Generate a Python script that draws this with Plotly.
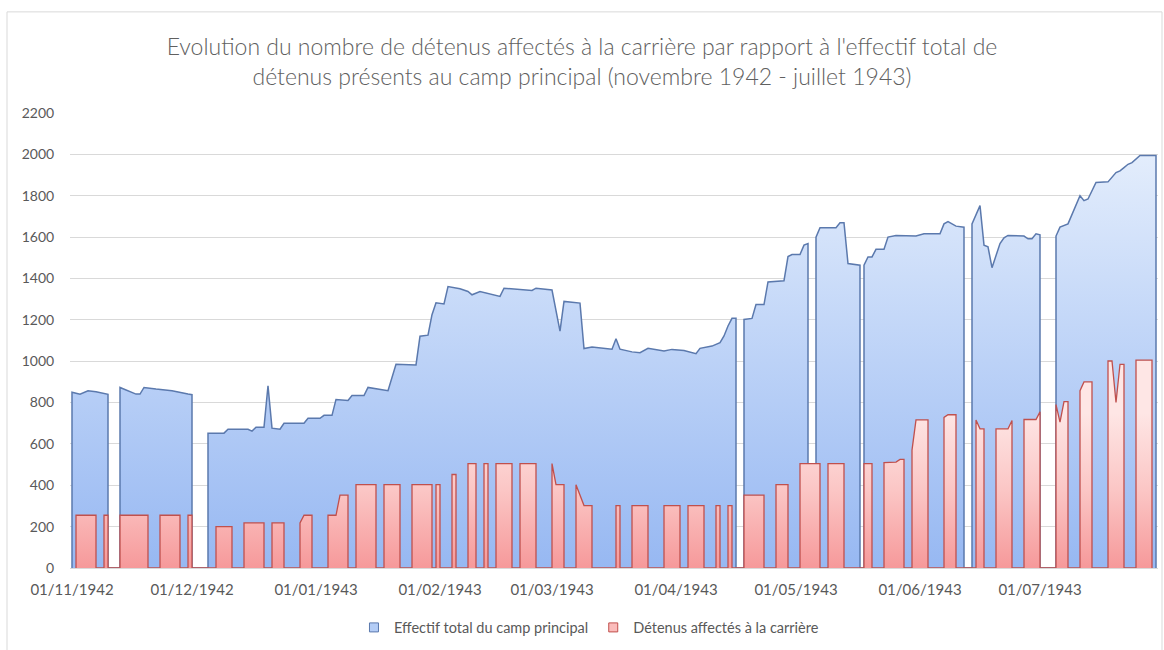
import plotly.graph_objects as go

# ---- Effectif total du camp principal (None = pas de donnée / interruption) ----
blue_dates = [
    "1942-11-01", "1942-11-03", "1942-11-05", "1942-11-07", "1942-11-09", "1942-11-10", None,
    "1942-11-13", "1942-11-15", "1942-11-17", "1942-11-18", "1942-11-19", "1942-11-22",
    "1942-11-26", "1942-11-30", "1942-12-01", None,
    "1942-12-05", "1942-12-09", "1942-12-10", "1942-12-15", "1942-12-16", "1942-12-17",
    "1942-12-19", "1942-12-20", "1942-12-21", "1942-12-23", "1942-12-24", "1942-12-29",
    "1942-12-30", "1943-01-02", "1943-01-03", "1943-01-05", "1943-01-06", "1943-01-09",
    "1943-01-10", "1943-01-13", "1943-01-14", "1943-01-19", "1943-01-21", "1943-01-26",
    "1943-01-27", "1943-01-29", "1943-01-30", "1943-01-31", "1943-02-02", "1943-02-03",
    "1943-02-06", "1943-02-08", "1943-02-09", "1943-02-11", "1943-02-16", "1943-02-17",
    "1943-02-24", "1943-02-25", "1943-03-01", "1943-03-03", "1943-03-04", "1943-03-08",
    "1943-03-09", "1943-03-11", "1943-03-16", "1943-03-17", "1943-03-18", "1943-03-21",
    "1943-03-23", "1943-03-25", "1943-03-29", "1943-03-31", "1943-04-03", "1943-04-06",
    "1943-04-07", "1943-04-09", "1943-04-10", "1943-04-12", "1943-04-13", "1943-04-14",
    "1943-04-15", "1943-04-16", None,
    "1943-04-18", "1943-04-20", "1943-04-21", "1943-04-23", "1943-04-24", "1943-04-28",
    "1943-04-29", "1943-04-30", "1943-05-02", "1943-05-03", "1943-05-04", None,
    "1943-05-06", "1943-05-07", "1943-05-11", "1943-05-12", "1943-05-13", "1943-05-14",
    "1943-05-17", None,
    "1943-05-18", "1943-05-19", "1943-05-20", "1943-05-21", "1943-05-23", "1943-05-24",
    "1943-05-26", "1943-05-31", "1943-06-02", "1943-06-06", "1943-06-07", "1943-06-08",
    "1943-06-10", "1943-06-12", None,
    "1943-06-14", "1943-06-16", "1943-06-17", "1943-06-18", "1943-06-19", "1943-06-21",
    "1943-06-22", "1943-06-23", "1943-06-27", "1943-06-28", "1943-06-29", "1943-06-30",
    "1943-07-01", None,
    "1943-07-05", "1943-07-06", "1943-07-08", "1943-07-09", "1943-07-11", "1943-07-12",
    "1943-07-13", "1943-07-15", "1943-07-18", "1943-07-20", "1943-07-21", "1943-07-22",
    "1943-07-23", "1943-07-24", "1943-07-26", "1943-07-30",
]
blue_values = [
    850, 840, 857, 852, 845, 840, None,
    873, 857, 841, 841, 873, 865, 857, 841, 838, None,
    652, 652, 671, 671, 662, 681, 681, 881, 676, 671, 700, 700,
    724, 724, 738, 738, 815, 810, 834, 834, 873, 857, 985, 982,
    1121, 1126, 1225, 1282, 1277, 1361, 1350, 1337, 1321, 1337, 1313, 1353,
    1342, 1353, 1344, 1145, 1289, 1281, 1061, 1068, 1058, 1108, 1058, 1045,
    1041, 1062, 1049, 1057, 1052, 1036, 1062, 1068, 1073, 1090, 1122, 1170,
    1207, 1207, None,
    1202, 1207, 1274, 1274, 1383, 1389, 1506, 1516, 1516, 1561, 1569, None,
    1600, 1645, 1645, 1669, 1669, 1472, 1464, None,
    1464, 1504, 1504, 1541, 1541, 1600, 1608, 1605, 1616, 1616, 1664, 1675,
    1653, 1648, None,
    1664, 1752, 1561, 1553, 1452, 1569, 1596, 1608, 1605, 1592, 1592, 1616,
    1611, None,
    1605, 1648, 1664, 1712, 1800, 1776, 1784, 1864, 1867, 1912, 1920, 1936,
    1952, 1960, 1995, 1995,
]

# ---- Détenus affectés à la carrière (None = pas de travail à la carrière) ----
red_dates = [
    "1942-11-02", "1942-11-07", None, "1942-11-09", "1942-11-10", None,
    "1942-11-13", "1942-11-20", None, "1942-11-23", "1942-11-28", None,
    "1942-11-30", "1942-12-01", None, "1942-12-07", "1942-12-11", None,
    "1942-12-14", "1942-12-19", None, "1942-12-21", "1942-12-24", None,
    "1942-12-28", "1942-12-29", "1942-12-31", None,
    "1943-01-04", "1943-01-06", "1943-01-07", "1943-01-09", None,
    "1943-01-11", "1943-01-16", None, "1943-01-18", "1943-01-22", None,
    "1943-01-25", "1943-01-30", None, "1943-01-31", "1943-02-01", None,
    "1943-02-04", "1943-02-05", None, "1943-02-08", "1943-02-10", None,
    "1943-02-12", "1943-02-13", None, "1943-02-15", "1943-02-19", None,
    "1943-02-21", "1943-02-25", None,
    "1943-03-01", "1943-03-02", "1943-03-04", None,
    "1943-03-07", "1943-03-09", "1943-03-11", None,
    "1943-03-17", "1943-03-18", None, "1943-03-21", "1943-03-25", None,
    "1943-03-29", "1943-04-02", None, "1943-04-04", "1943-04-08", None,
    "1943-04-11", "1943-04-12", None, "1943-04-14", "1943-04-15", None,
    "1943-04-18", "1943-04-23", None, "1943-04-26", "1943-04-29", None,
    "1943-05-02", "1943-05-07", None, "1943-05-09", "1943-05-13", None,
    "1943-05-18", "1943-05-20", None,
    "1943-05-23", "1943-05-26", "1943-05-27", "1943-05-28", None,
    "1943-05-30", "1943-05-31", "1943-06-03", None,
    "1943-06-07", "1943-06-08", "1943-06-10", None,
    "1943-06-15", "1943-06-16", "1943-06-17", None,
    "1943-06-20", "1943-06-23", "1943-06-24", None,
    "1943-06-27", "1943-06-30", "1943-07-01", None,
    "1943-07-05", "1943-07-06", "1943-07-07", "1943-07-08", None,
    "1943-07-11", "1943-07-12", "1943-07-14", None,
    "1943-07-18", "1943-07-19", "1943-07-20", "1943-07-21", "1943-07-22", None,
    "1943-07-25", "1943-07-29",
]
red_values = [
    255, 255, None, 255, 255, None,
    255, 255, None, 255, 255, None,
    255, 255, None, 200, 200, None,
    218, 218, None, 218, 218, None,
    218, 255, 255, None,
    255, 255, 352, 352, None,
    403, 403, None, 403, 403, None,
    403, 403, None, 403, 403, None,
    452, 452, None, 505, 505, None,
    505, 505, None, 505, 505, None,
    505, 505, None,
    505, 403, 403, None,
    403, 302, 302, None,
    302, 302, None, 302, 302, None,
    302, 302, None, 302, 302, None,
    302, 302, None, 302, 302, None,
    352, 352, None, 403, 403, None,
    505, 505, None, 505, 505, None,
    505, 505, None,
    510, 512, 525, 525, None,
    570, 716, 716, None,
    728, 741, 741, None,
    716, 673, 673, None,
    673, 673, 713, None,
    718, 718, 755, None,
    790, 705, 804, 804, None,
    857, 900, 900, None,
    1001, 1001, 801, 985, 985, None,
    1005, 1005,
]

tick_dates = ["1942-11-01", "1942-12-01", "1943-01-01", "1943-02-01", "1943-03-01",
              "1943-04-01", "1943-05-01", "1943-06-01", "1943-07-01"]
tick_labels = ["01/11/1942", "01/12/1942", "01/01/1943", "01/02/1943", "01/03/1943",
               "01/04/1943", "01/05/1943", "01/06/1943", "01/07/1943"]
y_ticks = list(range(0, 2201, 200))

series_names = ["Effectif total du camp principal", "Détenus affectés à la carrière"]
title_text = ("Evolution du nombre de détenus affectés à la carrière par rapport à l'effectif total de"
              "<br>détenus présents au camp principal (novembre 1942 - juillet 1943)")


def close_blocks(dates, values):
    """Each run of values is closed down to the baseline at both of its ends."""
    xs, ys, block = [], [], []
    for d, v in list(zip(dates, values)) + [(None, None)]:
        if v is None:
            if block:
                xs += [block[0][0]] + [b[0] for b in block] + [block[-1][0]]
                ys += [0] + [b[1] for b in block] + [0]
            block = []
        else:
            block.append((d, v))
    return xs, ys


bx, by = close_blocks(blue_dates, blue_values)
rx, ry = close_blocks(red_dates, red_values)

GREY = "#595959"
FONT = "Lato"
BLUE_LINE, RED_LINE = "#5b79ad", "#c0504d"

fig = go.Figure()
fig.add_trace(go.Scatter(
    x=bx, y=by, mode="lines", name=series_names[0], showlegend=False,
    line=dict(color=BLUE_LINE, width=1.5),
    fill="tozeroy",
    fillgradient=dict(type="vertical", start=0, stop=2000,
                      colorscale=[[0, "#97b8f2"], [0.5, "#bcd2f7"], [1, "#e3edfc"]]),
))
fig.add_trace(go.Scatter(
    x=rx, y=ry, mode="lines", name=series_names[1], showlegend=False,
    line=dict(color=RED_LINE, width=1.3),
    fill="tozeroy",
    fillgradient=dict(type="vertical", start=0, stop=750,
                      colorscale=[[0, "#f6999a"], [0.5, "#fbc6c5"], [1, "#fee6e5"]]),
))
# legend entries (square keys, as in the original)
fig.add_trace(go.Scatter(x=[None], y=[None], mode="markers", name=series_names[0],
                         marker=dict(symbol="square", size=9, color="#b4cdf6",
                                     line=dict(color=BLUE_LINE, width=1))))
fig.add_trace(go.Scatter(x=[None], y=[None], mode="markers", name=series_names[1],
                         marker=dict(symbol="square", size=9, color="#fbbcbb",
                                     line=dict(color=RED_LINE, width=1))))

fig.update_layout(
    width=1164, height=650,
    margin=dict(l=70, r=6, t=113, b=78),
    paper_bgcolor="white", plot_bgcolor="white",
    font=dict(family=FONT, color=GREY, size=14),
    title=dict(text=title_text, x=0.5, xanchor="center", y=1 - 55 / 650, yanchor="middle",
               font=dict(family=FONT, size=23, color="#606060", weight=300)),
    showlegend=True,
    legend=dict(orientation="h", x=0.477, xanchor="center", y=1 - (632 - 113) / 459,
                yanchor="middle", font=dict(family=FONT, size=14.5, color=GREY),
                itemwidth=30, traceorder="normal", tracegroupgap=0),
    xaxis=dict(
        type="date", range=["1942-10-31 12:00", "1943-07-30 12:00"],
        tickmode="array", tickvals=tick_dates, ticktext=tick_labels,
        showgrid=False, showline=True, linecolor="#d9d9d9", linewidth=1,
        ticks="outside", ticklen=8, tickcolor="rgba(0,0,0,0)",
        tickfont=dict(family=FONT, size=15, color=GREY), zeroline=False,
    ),
    yaxis=dict(
        range=[0, 2200], tickmode="array", tickvals=y_ticks,
        showgrid=True, gridcolor="#d9d9d9", gridwidth=1, zeroline=False,
        ticks="outside", ticklen=12, tickcolor="rgba(0,0,0,0)",
        tickfont=dict(family=FONT, size=14, color=GREY),
    ),
    shapes=[dict(type="rect", xref="paper", yref="paper",
                 x0=(7 - 70) / 1088, x1=(1162 - 70) / 1088,
                 y0=1 - (660 - 113) / 459, y1=1 - (11 - 113) / 459,
                 line=dict(color="#d9d9d9", width=1), fillcolor="rgba(0,0,0,0)",
                 layer="below")],
)

fig.write_html("out.html", config={"displayModeBar": False},
               post_script="document.body.style.margin='0';")
